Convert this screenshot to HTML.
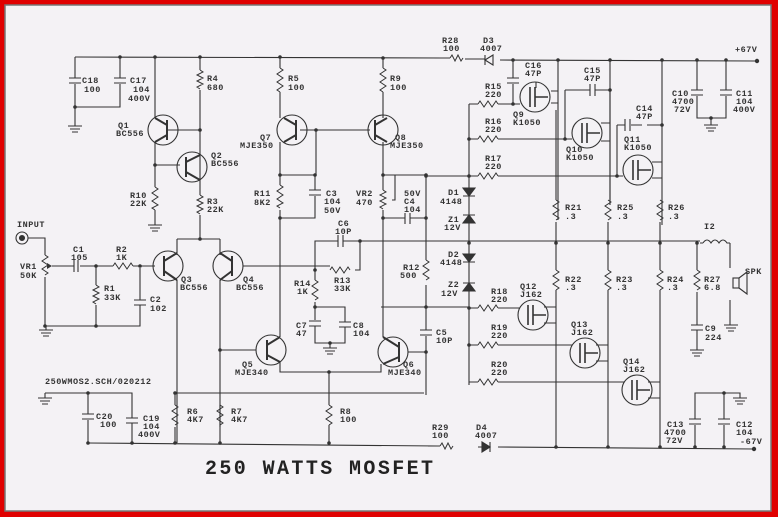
<!DOCTYPE html>
<html><head><meta charset="utf-8"><style>
html,body{margin:0;padding:0;background:#888;}
svg{display:block}
text{font-family:"Liberation Mono",monospace;font-weight:bold;font-size:8.5px;fill:#333;letter-spacing:0.5px}
</style></head><body>
<svg width="778" height="517" viewBox="0 0 778 517" xmlns="http://www.w3.org/2000/svg">
<rect x="0" y="0" width="778" height="517" fill="#e00000"/>
<rect x="5" y="5" width="766" height="506" fill="#f4f2f5" stroke="#777" stroke-width="1.5"/>
<g stroke="#333" stroke-width="1.1" fill="none">
<path d="M75 57 L443 58 M500 60 L757 61"/>
<path d="M88 443 L438 446 M498 447 L754 449"/>
<path d="M75 57 V78 M75 84 V107 H120 V84 M120 78 V57 M69 78 H81 M69 83 H81 M114 78 H126 M114 83 H126 M75 107 V126"/>
<path d="M68 126 H82 M70 129 H80 M72 132 H78 M46 326 V330 M39 330 H53 M41 333 H51 M43 336 H49"/>
<path d="M155 57 V118 M200 57 V70 M200 90 V180 M168 130 H200 M155 142 V187 M155 210 V225 M155 165 H180 M200 180 V195 M200 215 V239 M177 239 H220 M177 239 V255 M220 239 V255"/>
<path d="M148 225 H162 M150 228 H160 M152 231 H158"/>
<circle cx="163" cy="130" r="15"/><circle cx="192" cy="167" r="15"/>
<path d="M167 120 V140 M167 125 L155 118 M167 135 L155 142 M186 157 V177 M186 162 L200 155 M186 172 L200 180" stroke-width="2"/>
<circle cx="22" cy="238" r="6"/><circle cx="22" cy="238" r="2.5" fill="#333"/>
<path d="M28 238 H45 V255 M45 277 V326 H140 V305 M140 300 V268 M52 266 H74 M80 266 H113 M133 266 H155 M96 266 V285 M96 305 V326 M134 300 H146 M134 305 H146 M74 260 V272 M78 260 V272"/>
<circle cx="168" cy="266" r="15"/><circle cx="228" cy="266" r="15"/>
<path d="M164 256 V276 M164 261 L177 253 M164 271 L177 280 M232 256 V276 M232 261 L220 253 M232 271 L220 280" stroke-width="2"/>
<path d="M177 280 V443 M220 280 V443 M243 266 H330 M175 393 H424"/>
<path d="M280 57 V68 M280 92 V118 M383 57 V68 M383 92 V118 M300 130 H370 M316 130 V175 M280 142 V185 M280 210 V218 M280 175 H315 V190 M315 196 V218 H280 M309 190 H321 M309 195 H321 M280 218 V337"/>
<circle cx="292" cy="130" r="15"/><circle cx="383" cy="130" r="15"/>
<path d="M296 120 V140 M296 125 L284 118 M296 135 L284 142 M375 120 V140 M375 125 L387 118 M375 135 L387 142" stroke-width="2"/>
<path d="M383 142 V175 H426 M383 175 V190 M383 210 V337 M383 218 H405 M410 218 H426 M405 213 V224 M410 213 V224 M392 200 H395 V175 M426 175 V260 M426 285 V330 M426 336 V395"/>
<path d="M315 270 V241 H338 M343 241 H360 V270 H355 M360 241 H700 M338 235 V247 M343 235 V247 M315 270 V280 M315 302 V307 H345 V322 M315 307 V320 M315 326 V343 H345 V327 M309 321 H321 M309 326 H321 M339 322 H351 M339 327 H351 M330 343 V348"/>
<path d="M323 348 H337 M325 351 H335 M327 354 H333"/>
<circle cx="271" cy="350" r="15"/><circle cx="393" cy="352" r="15"/>
<path d="M267 340 V360 M267 345 L280 337 M267 355 L280 362 M399 342 V362 M399 347 L383 337 M399 357 L383 364" stroke-width="2"/>
<path d="M220 350 H256 M408 352 H426 M280 362 V372 H381 V364 M329 372 V405 M329 425 V443 M381 307 H469 M420 330 H432 M420 335 H432"/>
<path d="M45 393 V398 M38 398 H52 M40 401 H50 M42 404 H48 M45 393 H132 V418 M88 393 V414 M88 420 V443 M82 414 H94 M82 419 H94 M126 418 H138 M126 423 H138 M132 423 V443 M175 393 V405 M175 427 V443 M220 405 V427"/>
<path d="M443 58 H450 M465 59 H485 M485 55 V65 M485 60 L493 55 V65 Z M469 104 V385 M469 104 H478 M498 104 H520 M469 139 H478 M498 139 H572 M426 176 H478 M498 176 H623"/>
<path d="M513 60 V78 M513 84 V104 M507 78 H519 M507 83 H519 M558 60 V215 M610 60 V200 M662 60 V225 M536 82 V88 M551 91 H558 M551 103 H558 M558 215 V220"/>
<path d="M565 90 H590 M595 90 H610 M590 84 V96 M595 84 V96 M565 90 V139 M610 90 V200 M601 123 H610 M601 141 H610 V205 M647 125 H662 M617 125 H625 M631 125 H642 M625 119 V131 M630 119 V131 M617 125 V176 M652 162 H662 M652 178 H662"/>
<circle cx="535" cy="97" r="15"/><circle cx="587" cy="133" r="15"/><circle cx="638" cy="170" r="15"/>
<path d="M530 87 V107 M535 87 V107 M535 97 H548 M582 123 V143 M587 123 V143 M587 133 H600 M633 160 V180 M638 160 V180 M638 170 H651" stroke-width="1.6"/>
<path d="M556 110 V200 M556 222 V270 M608 222 V270 M660 222 V270 M556 290 V447 M608 290 V447 M660 290 V447"/>
<path d="M463 188 H475 L469 196 Z M463 223 H475 L469 215 Z M463 254 H475 L469 262 Z M463 291 H475 L469 283 Z" fill="#333"/>
<path d="M463 196 H475 M463 215 H475 M463 262 H475 M463 283 H475"/>
<path d="M469 308 H478 M498 308 H520 M469 345 H478 M498 345 H572 M469 382 H478 M498 382 H624"/>
<circle cx="533" cy="315" r="15"/><circle cx="585" cy="353" r="15"/><circle cx="637" cy="390" r="15"/>
<path d="M528 305 V325 M533 305 V325 M533 315 H546 M580 343 V363 M585 343 V363 M585 353 H598 M632 380 V400 M637 380 V400 M637 390 H650" stroke-width="1.6"/>
<path d="M544 307 H556 M544 323 H556 M596 345 H608 M596 361 H608 M648 382 H660 M648 398 H660"/>
<path d="M697 243 V270 M697 292 V325 M691 325 H703 M691 330 H703 M697 330 V350 M690 350 H704 M692 353 H702 M694 356 H700 M700 243 H703 M730 243 V268 M730 300 V325 M724 325 H738 M726 328 H736 M728 331 H734"/>
<path d="M703 243 q4 -6 8 0 q4 -6 8 0 q4 -6 8 0 h3"/>
<rect x="733" y="278" width="6" height="10"/><path d="M739 278 L747 272 V294 L739 288"/>
<path d="M697 60 V90 M697 96 V118 H726 V96 M726 90 V60 M691 90 H703 M691 95 H703 M720 90 H732 M720 95 H732 M711 118 V125 M704 125 H718 M706 128 H716 M708 131 H714"/>
<path d="M695 447 V425 M695 419 V393 H724 V419 M724 425 V447 M689 419 H701 M689 424 H701 M718 419 H730 M718 424 H730 M724 393 H740 V398 M733 398 H747 M735 401 H745 M737 404 H743"/>
<path d="M428 446 H440 M478 447 H490 M490 442 V452"/>
<path d="M490 447 L482 442 V452 Z" fill="#333"/>
<g stroke-width="1">
<path d="M200 70 l3 2 l-6 3 l6 3 l-6 3 l6 3 l-6 3 l3 2 M280 68 l3 2 l-6 4 l6 4 l-6 4 l6 4 l-6 4 l3 2 M383 68 l3 2 l-6 4 l6 4 l-6 4 l6 4 l-6 4 l3 2 M155 187 l3 2 l-6 4 l6 4 l-6 4 l6 4 l-6 3 l3 2 M200 195 l3 2 l-6 3 l6 3 l-6 3 l6 3 l-6 3 l3 2 M280 185 l3 2 l-6 4 l6 4 l-6 4 l6 4 l-6 3 l3 2 M96 285 l3 2 l-6 3 l6 3 l-6 3 l6 3 l-6 3 l3 2 M45 255 l3 2 l-6 4 l6 4 l-6 4 l6 4 l-3 2 M383 190 l3 2 l-6 3 l6 3 l-6 3 l6 3 l-6 3 l3 2 M315 280 l3 2 l-6 4 l6 4 l-6 4 l6 4 l-3 2 M426 260 l3 2 l-6 4 l6 4 l-6 4 l6 4 l-3 2 M175 405 l3 2 l-6 4 l6 4 l-6 4 l6 4 l-3 2 M220 405 l3 2 l-6 4 l6 4 l-6 4 l6 4 l-3 2 M329 405 l3 2 l-6 4 l6 4 l-6 4 l6 4 l-3 2"/>
<path d="M556 200 l3 2 l-6 4 l6 4 l-6 4 l6 4 l-3 2 M608 200 l3 2 l-6 4 l6 4 l-6 4 l6 4 l-3 2 M660 200 l3 2 l-6 4 l6 4 l-6 4 l6 4 l-3 2 M556 270 l3 2 l-6 4 l6 4 l-6 4 l6 4 l-3 2 M608 270 l3 2 l-6 4 l6 4 l-6 4 l6 4 l-3 2 M660 270 l3 2 l-6 4 l6 4 l-6 4 l6 4 l-3 2 M697 270 l3 2 l-6 4 l6 4 l-6 4 l6 4 l-3 2"/>
<path d="M113 266 l2 -3 l4 6 l4 -6 l4 6 l4 -6 l2 3 M330 270 l2 -3 l4 6 l4 -6 l4 6 l4 -6 l2 3 M450 58 l2 -3 l3 6 l3 -6 l3 6 l2 -3 M440 446 l2 -3 l3 6 l3 -6 l3 6 l2 -3"/>
<path d="M478 104 l2 -3 l4 6 l4 -6 l4 6 l4 -6 l2 3 M478 139 l2 -3 l4 6 l4 -6 l4 6 l4 -6 l2 3 M478 176 l2 -3 l4 6 l4 -6 l4 6 l4 -6 l2 3 M478 308 l2 -3 l4 6 l4 -6 l4 6 l4 -6 l2 3 M478 345 l2 -3 l4 6 l4 -6 l4 6 l4 -6 l2 3 M478 382 l2 -3 l4 6 l4 -6 l4 6 l4 -6 l2 3"/>
</g>
</g>
<path d="M52 266 l-5 -3 v6 z" fill="#333"/>
<g fill="#333">
<circle cx="120" cy="57" r="1.8"/><circle cx="155" cy="57" r="1.8"/><circle cx="200" cy="57" r="1.8"/><circle cx="280" cy="57" r="1.8"/><circle cx="383" cy="58" r="1.8"/><circle cx="75" cy="107" r="1.8"/><circle cx="200" cy="130" r="1.8"/><circle cx="155" cy="165" r="1.8"/><circle cx="200" cy="239" r="1.8"/><circle cx="316" cy="130" r="1.8"/><circle cx="280" cy="175" r="1.8"/><circle cx="315" cy="175" r="1.8"/><circle cx="280" cy="218" r="1.8"/><circle cx="383" cy="175" r="1.8"/><circle cx="383" cy="218" r="1.8"/><circle cx="426" cy="218" r="1.8"/><circle cx="426" cy="175" r="1.8"/><circle cx="360" cy="241" r="1.8"/><circle cx="315" cy="270" r="1.8"/><circle cx="315" cy="307" r="1.8"/><circle cx="330" cy="343" r="1.8"/><circle cx="220" cy="350" r="1.8"/><circle cx="329" cy="372" r="1.8"/><circle cx="426" cy="307" r="1.8"/><circle cx="426" cy="352" r="1.8"/><circle cx="175" cy="393" r="1.8"/><circle cx="96" cy="266" r="1.8"/><circle cx="140" cy="266" r="1.8"/><circle cx="96" cy="326" r="1.8"/><circle cx="45" cy="326" r="1.8"/><circle cx="88" cy="393" r="1.8"/><circle cx="88" cy="443" r="1.8"/><circle cx="132" cy="443" r="1.8"/><circle cx="175" cy="443" r="1.8"/><circle cx="220" cy="443" r="1.8"/><circle cx="329" cy="443" r="1.8"/>
<circle cx="513" cy="60" r="1.8"/><circle cx="558" cy="60" r="1.8"/><circle cx="610" cy="60" r="1.8"/><circle cx="662" cy="60" r="1.8"/><circle cx="697" cy="60" r="1.8"/><circle cx="726" cy="60" r="1.8"/><circle cx="757" cy="61" r="2.2"/><circle cx="513" cy="104" r="1.8"/><circle cx="469" cy="139" r="1.8"/><circle cx="469" cy="176" r="1.8"/><circle cx="426" cy="176" r="1.8"/><circle cx="610" cy="90" r="1.8"/><circle cx="565" cy="139" r="1.8"/><circle cx="662" cy="125" r="1.8"/><circle cx="617" cy="176" r="1.8"/><circle cx="469" cy="243" r="1.8"/><circle cx="556" cy="243" r="1.8"/><circle cx="608" cy="243" r="1.8"/><circle cx="660" cy="243" r="1.8"/><circle cx="697" cy="243" r="1.8"/><circle cx="469" cy="308" r="1.8"/><circle cx="469" cy="345" r="1.8"/><circle cx="556" cy="447" r="1.8"/><circle cx="608" cy="447" r="1.8"/><circle cx="660" cy="447" r="1.8"/><circle cx="695" cy="447" r="1.8"/><circle cx="724" cy="447" r="1.8"/><circle cx="754" cy="449" r="2.2"/><circle cx="724" cy="393" r="1.8"/><circle cx="711" cy="118" r="1.8"/>
</g>
<g>
<text x="82" y="83">C18</text><text x="84" y="92">100</text>
<text x="130" y="83">C17</text><text x="133" y="92">104</text><text x="128" y="101">400V</text>
<text x="118" y="128">Q1</text><text x="116" y="136">BC556</text>
<text x="211" y="158">Q2</text><text x="211" y="166">BC556</text>
<text x="207" y="81">R4</text><text x="207" y="90">680</text>
<text x="130" y="198">R10</text><text x="130" y="206">22K</text>
<text x="207" y="204">R3</text><text x="207" y="212">22K</text>
<text x="17" y="227">INPUT</text>
<text x="73" y="252">C1</text><text x="71" y="260">105</text>
<text x="116" y="252">R2</text><text x="116" y="260">1K</text>
<text x="20" y="269">VR1</text><text x="20" y="278">50K</text>
<text x="104" y="291">R1</text><text x="104" y="300">33K</text>
<text x="150" y="302">C2</text><text x="150" y="311">102</text>
<text x="181" y="282">Q3</text><text x="180" y="290">BC556</text>
<text x="243" y="282">Q4</text><text x="236" y="290">BC556</text>
<text x="288" y="81">R5</text><text x="288" y="90">100</text>
<text x="390" y="81">R9</text><text x="390" y="90">100</text>
<text x="260" y="140">Q7</text><text x="240" y="148">MJE350</text>
<text x="395" y="140">Q8</text><text x="390" y="148">MJE350</text>
<text x="254" y="196">R11</text><text x="254" y="205">8K2</text>
<text x="326" y="196">C3</text><text x="324" y="204">104</text><text x="324" y="213">50V</text>
<text x="356" y="196">VR2</text><text x="356" y="205">470</text>
<text x="404" y="196">50V</text><text x="404" y="204">C4</text><text x="404" y="212">104</text>
<text x="338" y="226">C6</text><text x="335" y="234">10P</text>
<text x="334" y="283">R13</text><text x="334" y="291">33K</text>
<text x="294" y="286">R14</text><text x="297" y="294">1K</text>
<text x="296" y="328">C7</text><text x="296" y="336">47</text>
<text x="353" y="328">C8</text><text x="353" y="336">104</text>
<text x="403" y="270">R12</text><text x="400" y="278">500</text>
<text x="436" y="335">C5</text><text x="436" y="343">10P</text>
<text x="242" y="367">Q5</text><text x="235" y="375">MJE340</text>
<text x="403" y="367">Q6</text><text x="388" y="375">MJE340</text>
<text x="45" y="384">250WMOS2.SCH/020212</text>
<text x="96" y="419">C20</text><text x="100" y="427">100</text>
<text x="143" y="421">C19</text><text x="143" y="429">104</text><text x="138" y="437">400V</text>
<text x="187" y="414">R6</text><text x="187" y="422">4K7</text>
<text x="231" y="414">R7</text><text x="231" y="422">4K7</text>
<text x="340" y="414">R8</text><text x="340" y="422">100</text>
<text x="442" y="43">R28</text><text x="443" y="51">100</text>
<text x="483" y="43">D3</text><text x="480" y="51">4007</text>
<text x="735" y="52">+67V</text>
<text x="525" y="68">C16</text><text x="525" y="76">47P</text>
<text x="584" y="73">C15</text><text x="584" y="81">47P</text>
<text x="485" y="89">R15</text><text x="485" y="97">220</text>
<text x="513" y="117">Q9</text><text x="513" y="125">K1050</text>
<text x="485" y="124">R16</text><text x="485" y="132">220</text>
<text x="566" y="152">Q10</text><text x="566" y="160">K1050</text>
<text x="636" y="111">C14</text><text x="636" y="119">47P</text>
<text x="624" y="142">Q11</text><text x="624" y="150">K1050</text>
<text x="485" y="161">R17</text><text x="485" y="169">220</text>
<text x="672" y="96">C10</text><text x="672" y="104">4700</text><text x="674" y="112">72V</text>
<text x="736" y="96">C11</text><text x="736" y="104">104</text><text x="733" y="112">400V</text>
<text x="448" y="195">D1</text><text x="440" y="204">4148</text>
<text x="448" y="222">Z1</text><text x="444" y="230">12V</text>
<text x="448" y="257">D2</text><text x="440" y="265">4148</text>
<text x="448" y="287">Z2</text><text x="441" y="296">12V</text>
<text x="565" y="210">R21</text><text x="565" y="219">.3</text>
<text x="617" y="210">R25</text><text x="617" y="219">.3</text>
<text x="668" y="210">R26</text><text x="668" y="219">.3</text>
<text x="704" y="229">I2</text>
<text x="745" y="274">SPK</text>
<text x="565" y="282">R22</text><text x="565" y="290">.3</text>
<text x="616" y="282">R23</text><text x="616" y="290">.3</text>
<text x="667" y="282">R24</text><text x="667" y="290">.3</text>
<text x="704" y="282">R27</text><text x="704" y="290">6.8</text>
<text x="705" y="331">C9</text><text x="705" y="340">224</text>
<text x="491" y="294">R18</text><text x="491" y="302">220</text>
<text x="520" y="289">Q12</text><text x="520" y="297">J162</text>
<text x="491" y="330">R19</text><text x="491" y="338">220</text>
<text x="571" y="327">Q13</text><text x="571" y="335">J162</text>
<text x="491" y="367">R20</text><text x="491" y="375">220</text>
<text x="623" y="364">Q14</text><text x="623" y="372">J162</text>
<text x="667" y="427">C13</text><text x="664" y="435">4700</text><text x="666" y="443">72V</text>
<text x="736" y="427">C12</text><text x="736" y="435">104</text>
<text x="740" y="444">-67V</text>
<text x="432" y="430">R29</text><text x="432" y="438">100</text>
<text x="476" y="430">D4</text><text x="475" y="438">4007</text>
<text x="205" y="474" style="font-size:20px;letter-spacing:2.4px;fill:#222">250 WATTS MOSFET</text>
</g>
</svg>
</body></html>
